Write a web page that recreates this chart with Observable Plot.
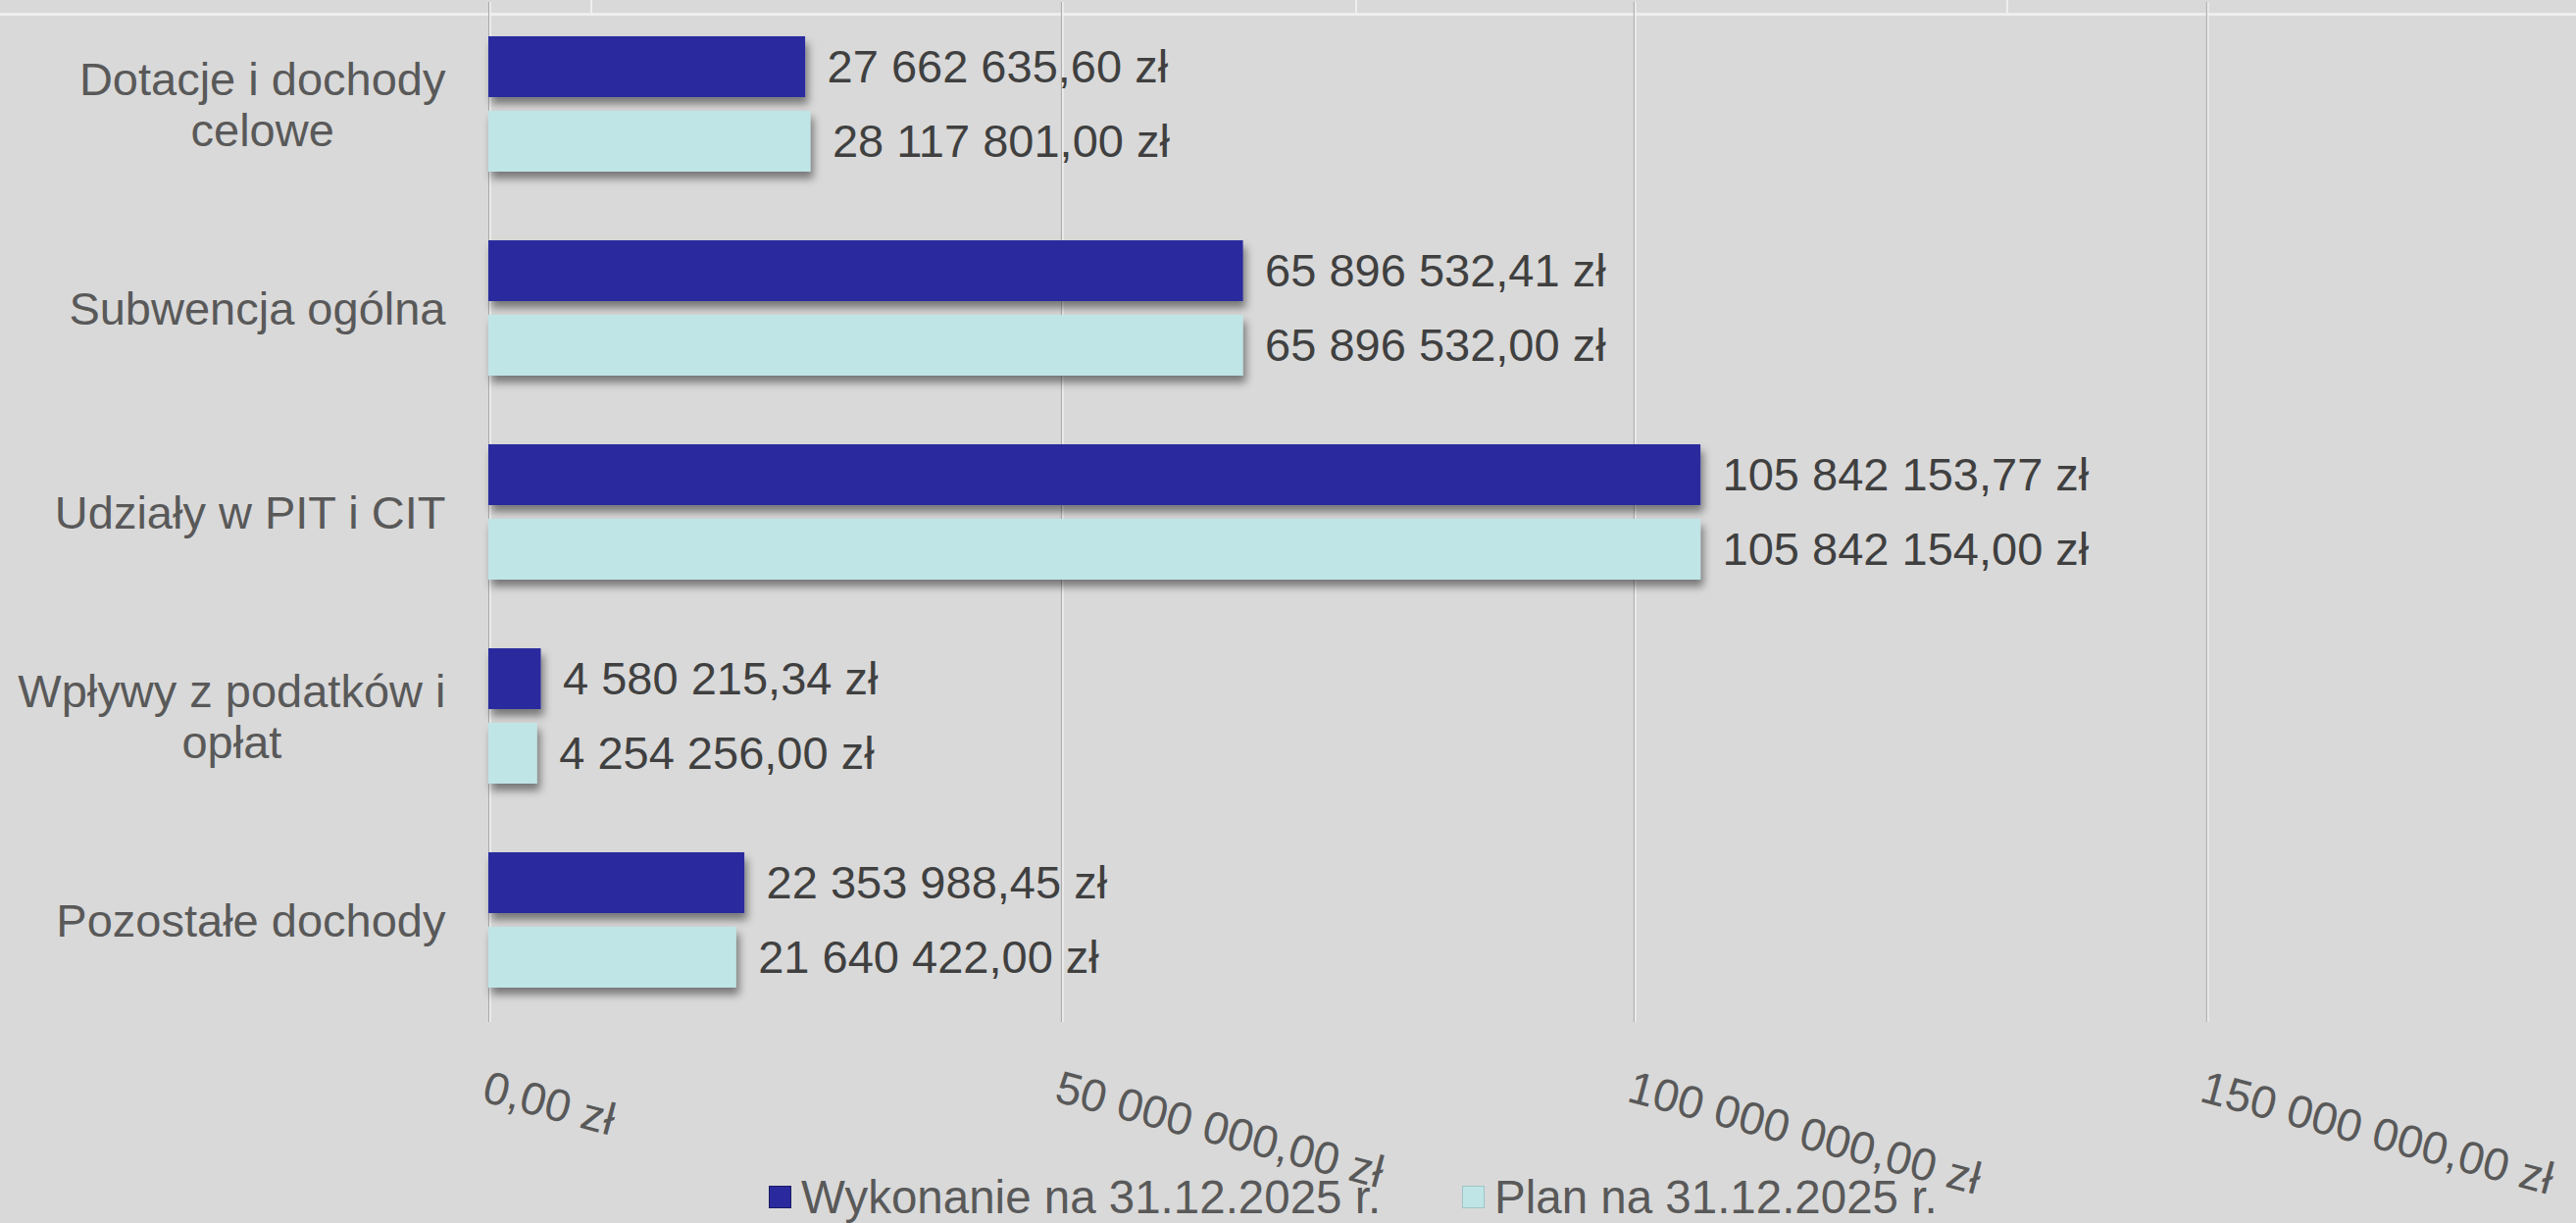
<!DOCTYPE html>
<html>
<head>
<meta charset="utf-8">
<script src="https://cdn.jsdelivr.net/npm/d3@7"></script>
<script src="https://cdn.jsdelivr.net/npm/@observablehq/plot@0.6"></script>
<style>
  html, body { margin: 0; padding: 0; background: #d9d9d9; overflow: hidden; }
  #wrap { position: relative; width: 2627px; height: 1247px; font-family: "Liberation Sans", Arial, sans-serif; }
  .topline { position: absolute; left: 0; top: 13px; width: 2627px; height: 3px; background: #eeeeee; }
  .vseg { position: absolute; top: 0; width: 2px; height: 13px; background: #eeeeee; }
  #chart { position: absolute; left: 0; top: 0; }
  .legend-item { position: absolute; top: 1194px; height: 52px; display: flex; align-items: center;
                 font-size: 47.5px; color: #595959; white-space: nowrap; }
  .sw { width: 23px; height: 23px; margin-right: 10px; box-sizing: border-box; }
</style>
</head>
<body>
<div id="wrap">
  <div class="topline"></div>
  <div class="vseg" style="left:602px"></div>
  <div class="vseg" style="left:1382px"></div>
  <div class="vseg" style="left:2046px"></div>
  <div id="chart"></div>
  <div class="legend-item" style="left:784px"><div class="sw" style="background:#2a2a9e;border:1px solid #1a1a66"></div><span id="lg0"></span></div>
  <div class="legend-item" style="left:1491px"><div class="sw" style="background:#bfe5e7;border:1px solid #9fc5c7"></div><span id="lg1"></span></div>
</div>
<script>
// ---- data ----
const categories = [
  "Dotacje i dochody celowe",
  "Subwencja ogólna",
  "Udziały w PIT i CIT",
  "Wpływy z podatków i opłat",
  "Pozostałe dochody"
];
const categoryLabels = [
  "Dotacje i dochody\ncelowe",
  "Subwencja ogólna",
  "Udziały w PIT i CIT",
  "Wpływy z podatków i\nopłat",
  "Pozostałe dochody"
];
const seriesNames = ["Wykonanie na 31.12.2025 r.", "Plan na 31.12.2025 r."];
const wykonanie = [27662635.60, 65896532.41, 105842153.77, 4580215.34, 22353988.45];
const plan = [28117801.00, 65896532.00, 105842154.00, 4254256.00, 21640422.00];
const xTicks = [0, 50000000, 100000000, 150000000];
const xMax = 182300000;

// ---- build table ----
const rows = categories.flatMap((c, i) => [
  {category: c, series: seriesNames[0], value: wykonanie[i]},
  {category: c, series: seriesNames[1], value: plan[i]}
]);

const pl = d3.formatLocale({decimal: ",", thousands: " ", grouping: [3], currency: ["", " zł"]});
const fmt = pl.format("$,.2f");

const DARK = "#2a2a9e";
const LIGHT = "#bfe5e7";
const lastCat = categories[categories.length - 1];

const chart = Plot.plot({
  width: 2627,
  height: 1247,
  marginLeft: 498,
  marginRight: 0,
  marginTop: 0,
  marginBottom: 203,
  style: {background: "transparent", fontFamily: "'Liberation Sans', Arial, sans-serif", overflow: "visible"},
  x: {domain: [0, xMax], axis: null},
  y: {domain: seriesNames, paddingInner: 0.18, paddingOuter: 0.447, axis: null},
  fy: {domain: categories, paddingInner: 0, paddingOuter: 0, axis: null},
  marks: [
    Plot.ruleX(xTicks, {x: d => d, stroke: "#f0f0f0", strokeWidth: 1.5, dx: 1.5}),
    Plot.ruleX(xTicks, {x: d => d, stroke: "#aaaaaa", strokeWidth: 1}),
    Plot.barX(rows.filter(d => d.series === seriesNames[0]), {fy: "category", y: "series", x: "value", fill: DARK}),
    Plot.barX(rows.filter(d => d.series === seriesNames[1]), {fy: "category", y: "series", x: "value", fill: LIGHT}),
    Plot.text(rows, {fy: "category", y: "series", x: "value", text: d => fmt(d.value),
      textAnchor: "start", dx: 22, fontSize: 47, fill: "#404040"}),
    Plot.text(categories, {fy: d => d, frameAnchor: "left", text: (d, i) => categoryLabels[i],
      textAnchor: "end", dx: -44, fontSize: 47, fill: "#595959", lineHeight: 1.11}),
    Plot.text(xTicks, {x: d => d, fy: () => lastCat, frameAnchor: "bottom", text: d => fmt(d),
      textAnchor: "start", lineAnchor: "top", rotate: 15, dy: 48, fontSize: 46.5, fill: "#595959"})
  ]
});

document.getElementById("chart").append(chart);
document.getElementById("lg0").textContent = seriesNames[0];
document.getElementById("lg1").textContent = seriesNames[1];

// ---- styling: gradients + shadows ----
const svg = d3.select(chart);
const defs = svg.insert("defs", ":first-child");
const gW = defs.append("linearGradient").attr("id", "gW").attr("x1", 0).attr("y1", 0).attr("x2", 0).attr("y2", 1);
[[0, "#5a5aaf"], [0.2, "#4242aa"], [0.5, "#2b2ba3"], [1, "#1f1f88"]].forEach(([o, c]) =>
  gW.append("stop").attr("offset", o).attr("stop-color", c));
const gP = defs.append("linearGradient").attr("id", "gP").attr("x1", 0).attr("y1", 0).attr("x2", 0).attr("y2", 1);
[[0, "#d8f0f2"], [0.3, "#c5e7ea"], [0.7, "#b8e0e2"], [1, "#a0d1d3"]].forEach(([o, c]) =>
  gP.append("stop").attr("offset", o).attr("stop-color", c));
const f = defs.append("filter").attr("id", "shadow").attr("x", "-50%").attr("y", "-30%").attr("width", "200%").attr("height", "190%");
f.append("feDropShadow").attr("dx", 3).attr("dy", 7).attr("stdDeviation", 4.5)
  .attr("flood-color", "#000").attr("flood-opacity", 0.45);

svg.selectAll('g[aria-label="bar"]').each(function() {
  const g = d3.select(this);
  const fill = (g.attr("fill") || "").toLowerCase();
  if (fill === DARK) g.attr("fill", "url(#gW)").attr("stroke", "#1c1c62").attr("stroke-width", 1.5);
  else if (fill === LIGHT) g.attr("fill", "url(#gP)").attr("stroke", "#809ea0").attr("stroke-width", 1.5);
  g.selectAll("rect").attr("filter", "url(#shadow)");
});

// center the lines of wrapped category labels inside their right-aligned block
chart.querySelectorAll("text").forEach(t => {
  const spans = t.querySelectorAll("tspan");
  if (spans.length > 1) {
    let w = 0;
    spans.forEach(s => { w = Math.max(w, s.getComputedTextLength()); });
    t.setAttribute("text-anchor", "middle");
    t.setAttribute("transform", (t.getAttribute("transform") || "") + ` translate(${-w / 2},0)`);
  }
});
</script>
</body>
</html>
